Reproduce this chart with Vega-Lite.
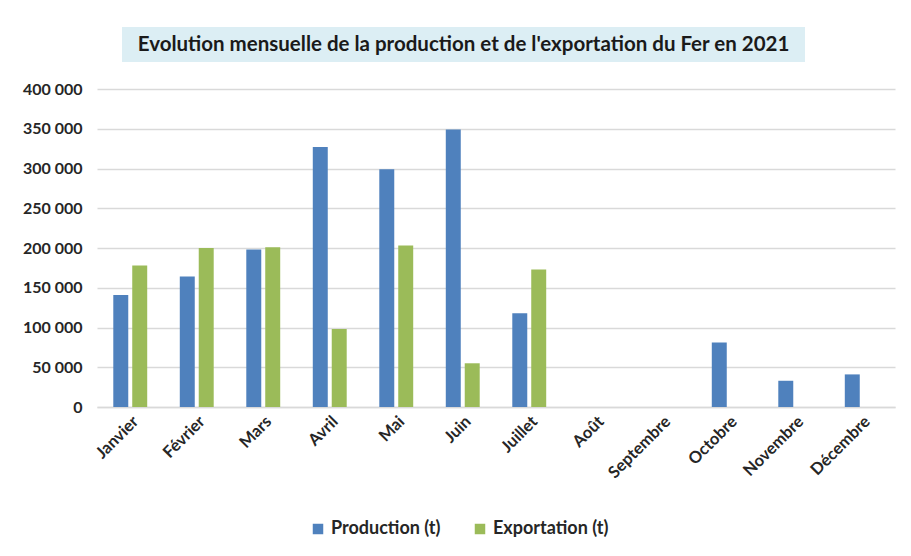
{
  "$schema": "https://vega.github.io/schema/vega-lite/v6.json",
  "background": "white",
  "padding": {"left": 22, "top": 27, "right": 10, "bottom": 10},
  "config": {
    "font": "Lato",
    "view": {"stroke": null},
    "concat": {"spacing": 19},
    "legend": {"layout": {"bottom": {"anchor": "middle"}}}
  },
  "center": true,
  "vconcat": [
    {
      "spacing": 15,
      "hconcat": [
        {
          "width": 683,
          "height": 35,
          "view": {"fill": "#DCEEF4", "stroke": null},
          "data": {"values": [{"t": "Evolution mensuelle de la production et de l'exportation du Fer en 2021"}]},
          "mark": {"type": "text", "font": "Lato", "fontWeight": "bold", "fontSize": 20.5, "color": "#1a1a1a", "baseline": "middle", "align": "center"},
          "encoding": {"text": {"field": "t"}}
        },
        {
          "width": 50,
          "height": 35,
          "view": {"fill": null, "stroke": null},
          "data": {"values": []},
          "mark": {"type": "point", "opacity": 0},
          "encoding": {}
        }
      ]
    },
    {
      "width": 798,
      "height": 318,
      "data": {
        "values": [
          {"mois": "Janvier", "serie": "Production (t)", "valeur": 141000},
          {"mois": "Janvier", "serie": "Exportation (t)", "valeur": 178000},
          {"mois": "Février", "serie": "Production (t)", "valeur": 164000},
          {"mois": "Février", "serie": "Exportation (t)", "valeur": 200000},
          {"mois": "Mars", "serie": "Production (t)", "valeur": 198000},
          {"mois": "Mars", "serie": "Exportation (t)", "valeur": 201000},
          {"mois": "Avril", "serie": "Production (t)", "valeur": 327000},
          {"mois": "Avril", "serie": "Exportation (t)", "valeur": 98000},
          {"mois": "Mai", "serie": "Production (t)", "valeur": 299000},
          {"mois": "Mai", "serie": "Exportation (t)", "valeur": 203000},
          {"mois": "Juin", "serie": "Production (t)", "valeur": 349000},
          {"mois": "Juin", "serie": "Exportation (t)", "valeur": 55000},
          {"mois": "Juillet", "serie": "Production (t)", "valeur": 118000},
          {"mois": "Juillet", "serie": "Exportation (t)", "valeur": 173000},
          {"mois": "Octobre", "serie": "Production (t)", "valeur": 81000},
          {"mois": "Novembre", "serie": "Production (t)", "valeur": 33000},
          {"mois": "Décembre", "serie": "Production (t)", "valeur": 41000}
        ]
      },
      "mark": {"type": "bar"},
      "encoding": {
        "x": {
          "field": "mois",
          "type": "nominal",
          "sort": null,
          "scale": {
            "domain": ["Janvier", "Février", "Mars", "Avril", "Mai", "Juin", "Juillet", "Août", "Septembre", "Octobre", "Novembre", "Décembre"],
            "paddingInner": 0.49,
            "paddingOuter": 0.245
          },
          "axis": {
            "title": null,
            "labelAngle": -45,
            "labelFont": "Lato",
            "labelFontWeight": "bold",
            "labelFontSize": 16.5,
            "labelColor": "#262626",
            "labelPadding": 6,
            "ticks": false,
            "domain": true,
            "domainColor": "#D9D9D9",
            "domainWidth": 1.5,
            "grid": false
          }
        },
        "xOffset": {
          "field": "serie",
          "type": "nominal",
          "scale": {"domain": ["Production (t)", "Exportation (t)"], "paddingInner": 0.21, "paddingOuter": 0}
        },
        "y": {
          "field": "valeur",
          "type": "quantitative",
          "scale": {"domain": [0, 400000], "nice": false},
          "axis": {
            "title": null,
            "values": [0, 50000, 100000, 150000, 200000, 250000, 300000, 350000, 400000],
            "labelExpr": "replace(format(datum.value, ','), ',', ' ')",
            "labelFont": "Lato",
            "labelFontWeight": "bold",
            "labelFontSize": 16,
            "labelColor": "#262626",
            "labelPadding": 15,
            "ticks": false,
            "domain": false,
            "grid": true,
            "gridColor": "#D9D9D9",
            "gridWidth": 1.5
          }
        },
        "color": {
          "field": "serie",
          "type": "nominal",
          "scale": {"domain": ["Production (t)", "Exportation (t)"], "range": ["#4F81BD", "#9BBB59"]},
          "legend": {
            "title": null,
            "orient": "bottom",
            "direction": "horizontal",
            "symbolType": "square",
            "symbolSize": 110,
            "symbolStrokeWidth": 0,
            "labelFont": "Lato",
            "labelFontWeight": "bold",
            "labelFontSize": 18,
            "labelColor": "#262626",
            "columnPadding": 30,
            "offset": 38
          }
        }
      }
    }
  ]
}
